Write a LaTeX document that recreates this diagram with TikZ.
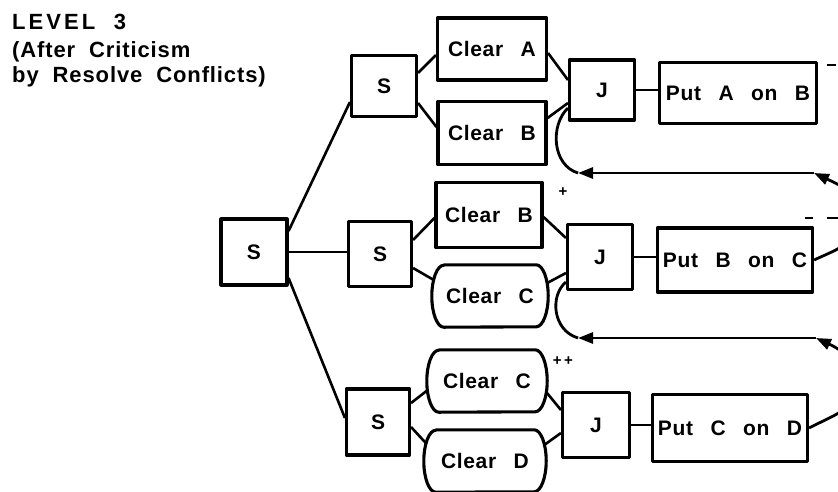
\documentclass[tikz,border=0pt]{standalone}
\usepackage{fontspec}
\setmainfont{Liberation Sans}
\newfontfamily\boxfont[LetterSpace=3,WordSpace=2.7]{Liberation Sans}
\newfontfamily\headfont[LetterSpace=4,WordSpace=2]{Liberation Sans}
\newfontfamily\levelfont[LetterSpace=14,WordSpace=2]{Liberation Sans}
\usetikzlibrary{arrows.meta}

\tikzset{
  boxline/.style={line width=3.1pt, line join=round},
  boxtext/.style={inner sep=0pt, font={\boxfont\bfseries\fontsize{21}{25}\selectfont}},
  box/.style={boxtext, draw, boxline},
  capsule/.style={boxtext, minimum height=62pt},
  link/.style={line width=2.6pt},
  fbline/.style={line width=2.8pt},
  fbtip/.style={-{Triangle[length=15pt,width=11pt]}},
  heading/.style={anchor=base west, inner sep=0pt, font={\headfont\bfseries\fontsize{22}{26}\selectfont}},
  plusmark/.style={inner sep=0pt, font={\bfseries\fontsize{15}{15}\selectfont}},
  remnant/.style={line width=2.2pt}
}

\begin{document}
\begin{tikzpicture}[x=1pt, y=-1pt]
  \useasboundingbox (0,0) rectangle (838,491);
  \clip (0,0) rectangle (838,491);

  % heading
  \node[heading, font={\levelfont\bfseries\fontsize{22}{26}\selectfont}] (t1) at (12,29) {LEVEL 3};
  \node[heading] (t2) at (12,57) {(After Criticism};
  \node[heading] (t3) at (12,82) {by Resolve Conflicts)};

  % split nodes
  \node[box, minimum width=66pt, minimum height=66pt] (root) at (254,252) {S};
  \node[box, minimum width=65pt, minimum height=61pt] (S1) at (384,86) {S};
  \node[box, minimum width=63pt, minimum height=65pt] (S2) at (380,254) {S};
  \node[box, minimum width=63pt, minimum height=66pt] (S3) at (378,422) {S};

  % goals, first branch
  \node[box, minimum width=109pt, minimum height=62pt] (cA1) at (492,49) {Clear A};
  \node[box, minimum width=108pt, minimum height=63pt] (cB1) at (492,133) {Clear B};
  \node[box, minimum width=65pt, minimum height=60pt] (J1) at (602,90) {J};
  \node[box, minimum width=157pt, minimum height=61pt] (pAB) at (738,93) {Put A on B};

  % goals, second branch
  \node[box, minimum width=106pt, minimum height=65pt] (cB2) at (489,215) {Clear B};
  \node[capsule, minimum width=116pt] (cC2) at (490,296) {Clear C};
  \node[box, minimum width=65pt, minimum height=65pt] (J2) at (600,257) {J};
  \node[box, minimum width=155pt, minimum height=64pt] (pBC) at (735,260) {Put B on C};

  % goals, third branch
  \node[capsule, minimum width=120pt] (cC3) at (487,381) {Clear C};
  \node[capsule, minimum width=122pt] (cD3) at (485,461) {Clear D};
  \node[box, minimum width=67pt, minimum height=65pt] (J3) at (596,425) {J};
  \node[box, minimum width=155pt, minimum height=67pt] (pCD) at (730,428) {Put C on D};

  % outlines of the round-sided goals
  \foreach \n in {cC2,cC3,cD3}
    \draw[boxline] ([xshift=12pt]\n.north west) -- ([xshift=-12pt]\n.north east)
      arc[start angle=90, end angle=-90, x radius=12pt, y radius=31pt]
      -- ([xshift=12pt]\n.south west)
      arc[start angle=270, end angle=90, x radius=12pt, y radius=31pt] -- cycle;

  % conflict marks
  \node[plusmark] (m1) at (563,192) {+};
  \node[plusmark] (m2) at (563,361) {+\,+};

  % tree links
  \draw[link] ([yshift=21pt]root.east) -- ([yshift=-16pt]S1.west);
  \draw[link] (root.east) -- (root.east -| S2.west);
  \draw[link] ([yshift=-26pt]root.east) -- ([yshift=4pt]S3.west);

  \draw[link] ([yshift=13pt]S1.east) -- ([yshift=-6pt]cA1.west);
  \draw[link] ([yshift=-17pt]S1.east) -- ([yshift=6pt]cB1.west);
  \draw[link] ([yshift=-4pt]cA1.east) -- ([yshift=10pt]J1.west);
  \draw[link] ([yshift=15pt]cB1.east) -- ([yshift=-13pt]J1.west);
  \draw[link] (J1.east) -- (J1.east -| pAB.west);

  \draw[link] ([yshift=14pt]S2.east) -- ([yshift=-3pt]cB2.west);
  \draw[link] ([yshift=-14pt]S2.east) -- ([xshift=2pt,yshift=16pt]cC2.west);
  \draw[link] ([yshift=-2pt]cB2.east) -- ([yshift=19pt]J2.west);
  \draw[link] ([xshift=-1pt,yshift=13pt]cC2.east) -- ([yshift=-16pt]J2.west);
  \draw[link] (J2.east) -- (J2.east -| pBC.west);

  \draw[link] ([yshift=19pt]S3.east) -- ([xshift=1pt,yshift=-9pt]cC3.west);
  \draw[link] ([yshift=-5pt]S3.east) -- ([xshift=2pt,yshift=18pt]cD3.west);
  \draw[link] ([xshift=-1pt,yshift=-11pt]cC3.east) -- ([yshift=15pt]J3.west);
  \draw[link] ([xshift=-2pt,yshift=16pt]cD3.east) -- ([yshift=-8pt]J3.west);
  \draw[link] (J3.east) -- (J3.east -| pCD.west);

  % ordering links added by the critic
  \coordinate (f1r) at (814,173);
  \coordinate (f1l) at (578,173);
  \coordinate (f1o) at (860,218);
  \coordinate (f2r) at (816,338);
  \coordinate (f2l) at (578,338);
  \coordinate (f2o) at (858,383);

  \draw[fbline] (pBC.east) to[out=25, in=-90] (f1o);
  \draw[fbline, fbtip] (f1o) to[out=90, in=-25] (f1r);
  \draw[fbline, fbtip] (f1r) -- (f1l);
  \draw[fbline] (f1l) .. controls (552,165) and (550,125) .. ([yshift=-18pt]J1.west);

  \draw[fbline] (pCD.east) to[out=28, in=-90] (f2o);
  \draw[fbline, fbtip] (f2o) to[out=90, in=-25] (f2r);
  \draw[fbline, fbtip] (f2r) -- (f2l);
  \draw[fbline] (f2l) .. controls (552,330) and (550,295) .. ([yshift=-25pt]J2.west);

  % leftover dashes at the right edge
  \draw[remnant] (827,65) -- (836,65);
  \draw[remnant] (805,218) -- (813,218);
  \draw[remnant] (827,218) -- (838,218);
\end{tikzpicture}
\end{document}
